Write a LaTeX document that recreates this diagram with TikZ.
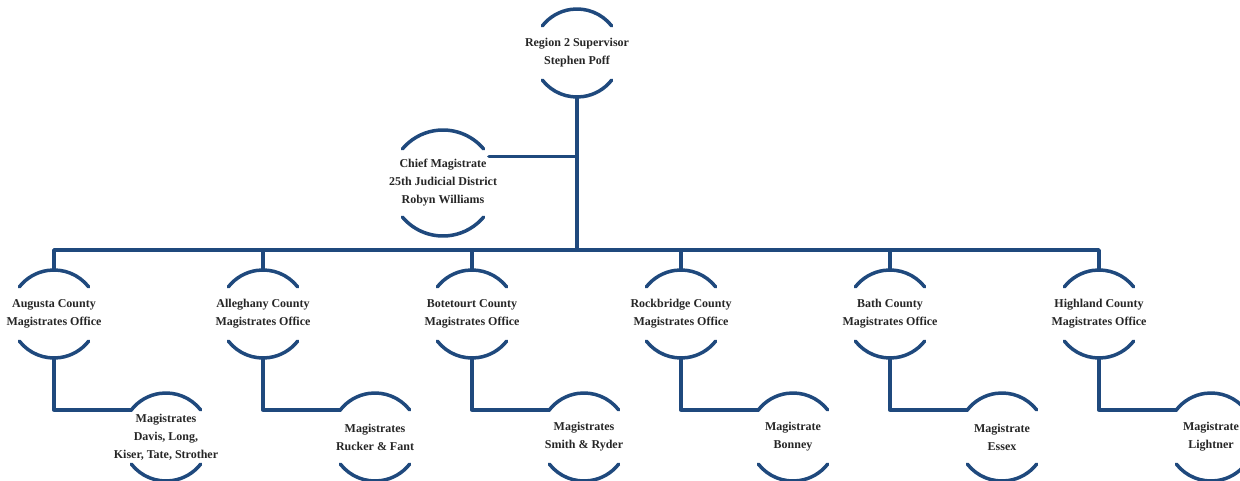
\documentclass[tikz,border=0pt]{standalone}
\usepackage{fontspec}
\setmainfont{Liberation Serif}
\definecolor{orgblue}{RGB}{31,73,125}
\begin{document}
\begin{tikzpicture}[x=1pt, y=1pt, line join=round, line cap=round,
		office/.style={circle, minimum size=88pt, inner xsep=-25pt, inner ysep=0pt, outer sep=0pt, align=center,
			text=black!85, font=\fontsize{12}{18}\selectfont\bfseries},
		link/.style={draw=orgblue, line width=3.5pt}]
		\def\busy{230} \def\ctyy{166} \def\magy{43}
		\useasboundingbox (0,0) rectangle (1240,480);
		\node[office] (sup) at (577,427) {Region 2 Supervisor\\Stephen Poff};
		\node[office, minimum size=106pt] (chief) at (443,297) {Chief Magistrate\\25th Judicial District\\Robyn Williams};
		\draw[link] (sup.38) arc (38:142:44) (sup.218) arc (218:322:44);
		\draw[link] (chief.40) arc (40:140:53) (chief.220) arc (220:320:53);
		\coordinate (bus) at (577,\busy);
		\draw[link] (sup.south) -- (bus);
		\draw[link] (chief.30) -- (chief.30 -| sup.south);
		\foreach \i/\x/\cty/\mag in {
				1/54/{Augusta County\\Magistrates Office}/{Magistrates\\Davis, Long,\\Kiser, Tate, Strother},
				2/263/{Alleghany County\\Magistrates Office}/{Magistrates\\Rucker \& Fant},
				3/472/{Botetourt County\\Magistrates Office}/{Magistrates\\Smith \& Ryder},
				4/681/{Rockbridge County\\Magistrates Office}/{Magistrate\\Bonney},
				5/890/{Bath County\\Magistrates Office}/{Magistrate\\Essex},
				6/1099/{Highland County\\Magistrates Office}/{Magistrate\\Lightner}}{
			\node[office] (c\i) at (\x,\ctyy) {\cty};
			\node[office] (m\i) at (\x+112,\magy) {\mag};
			\draw[link] (c\i.38) arc (38:142:44) (c\i.218) arc (218:322:44);
			\draw[link] (m\i.38) arc (38:142:44) (m\i.218) arc (218:322:44);
			\draw[link] (bus) -| (c\i.north);
			\draw[link] (c\i.south) |- (m\i.142);
		}
\end{tikzpicture}
\end{document}
